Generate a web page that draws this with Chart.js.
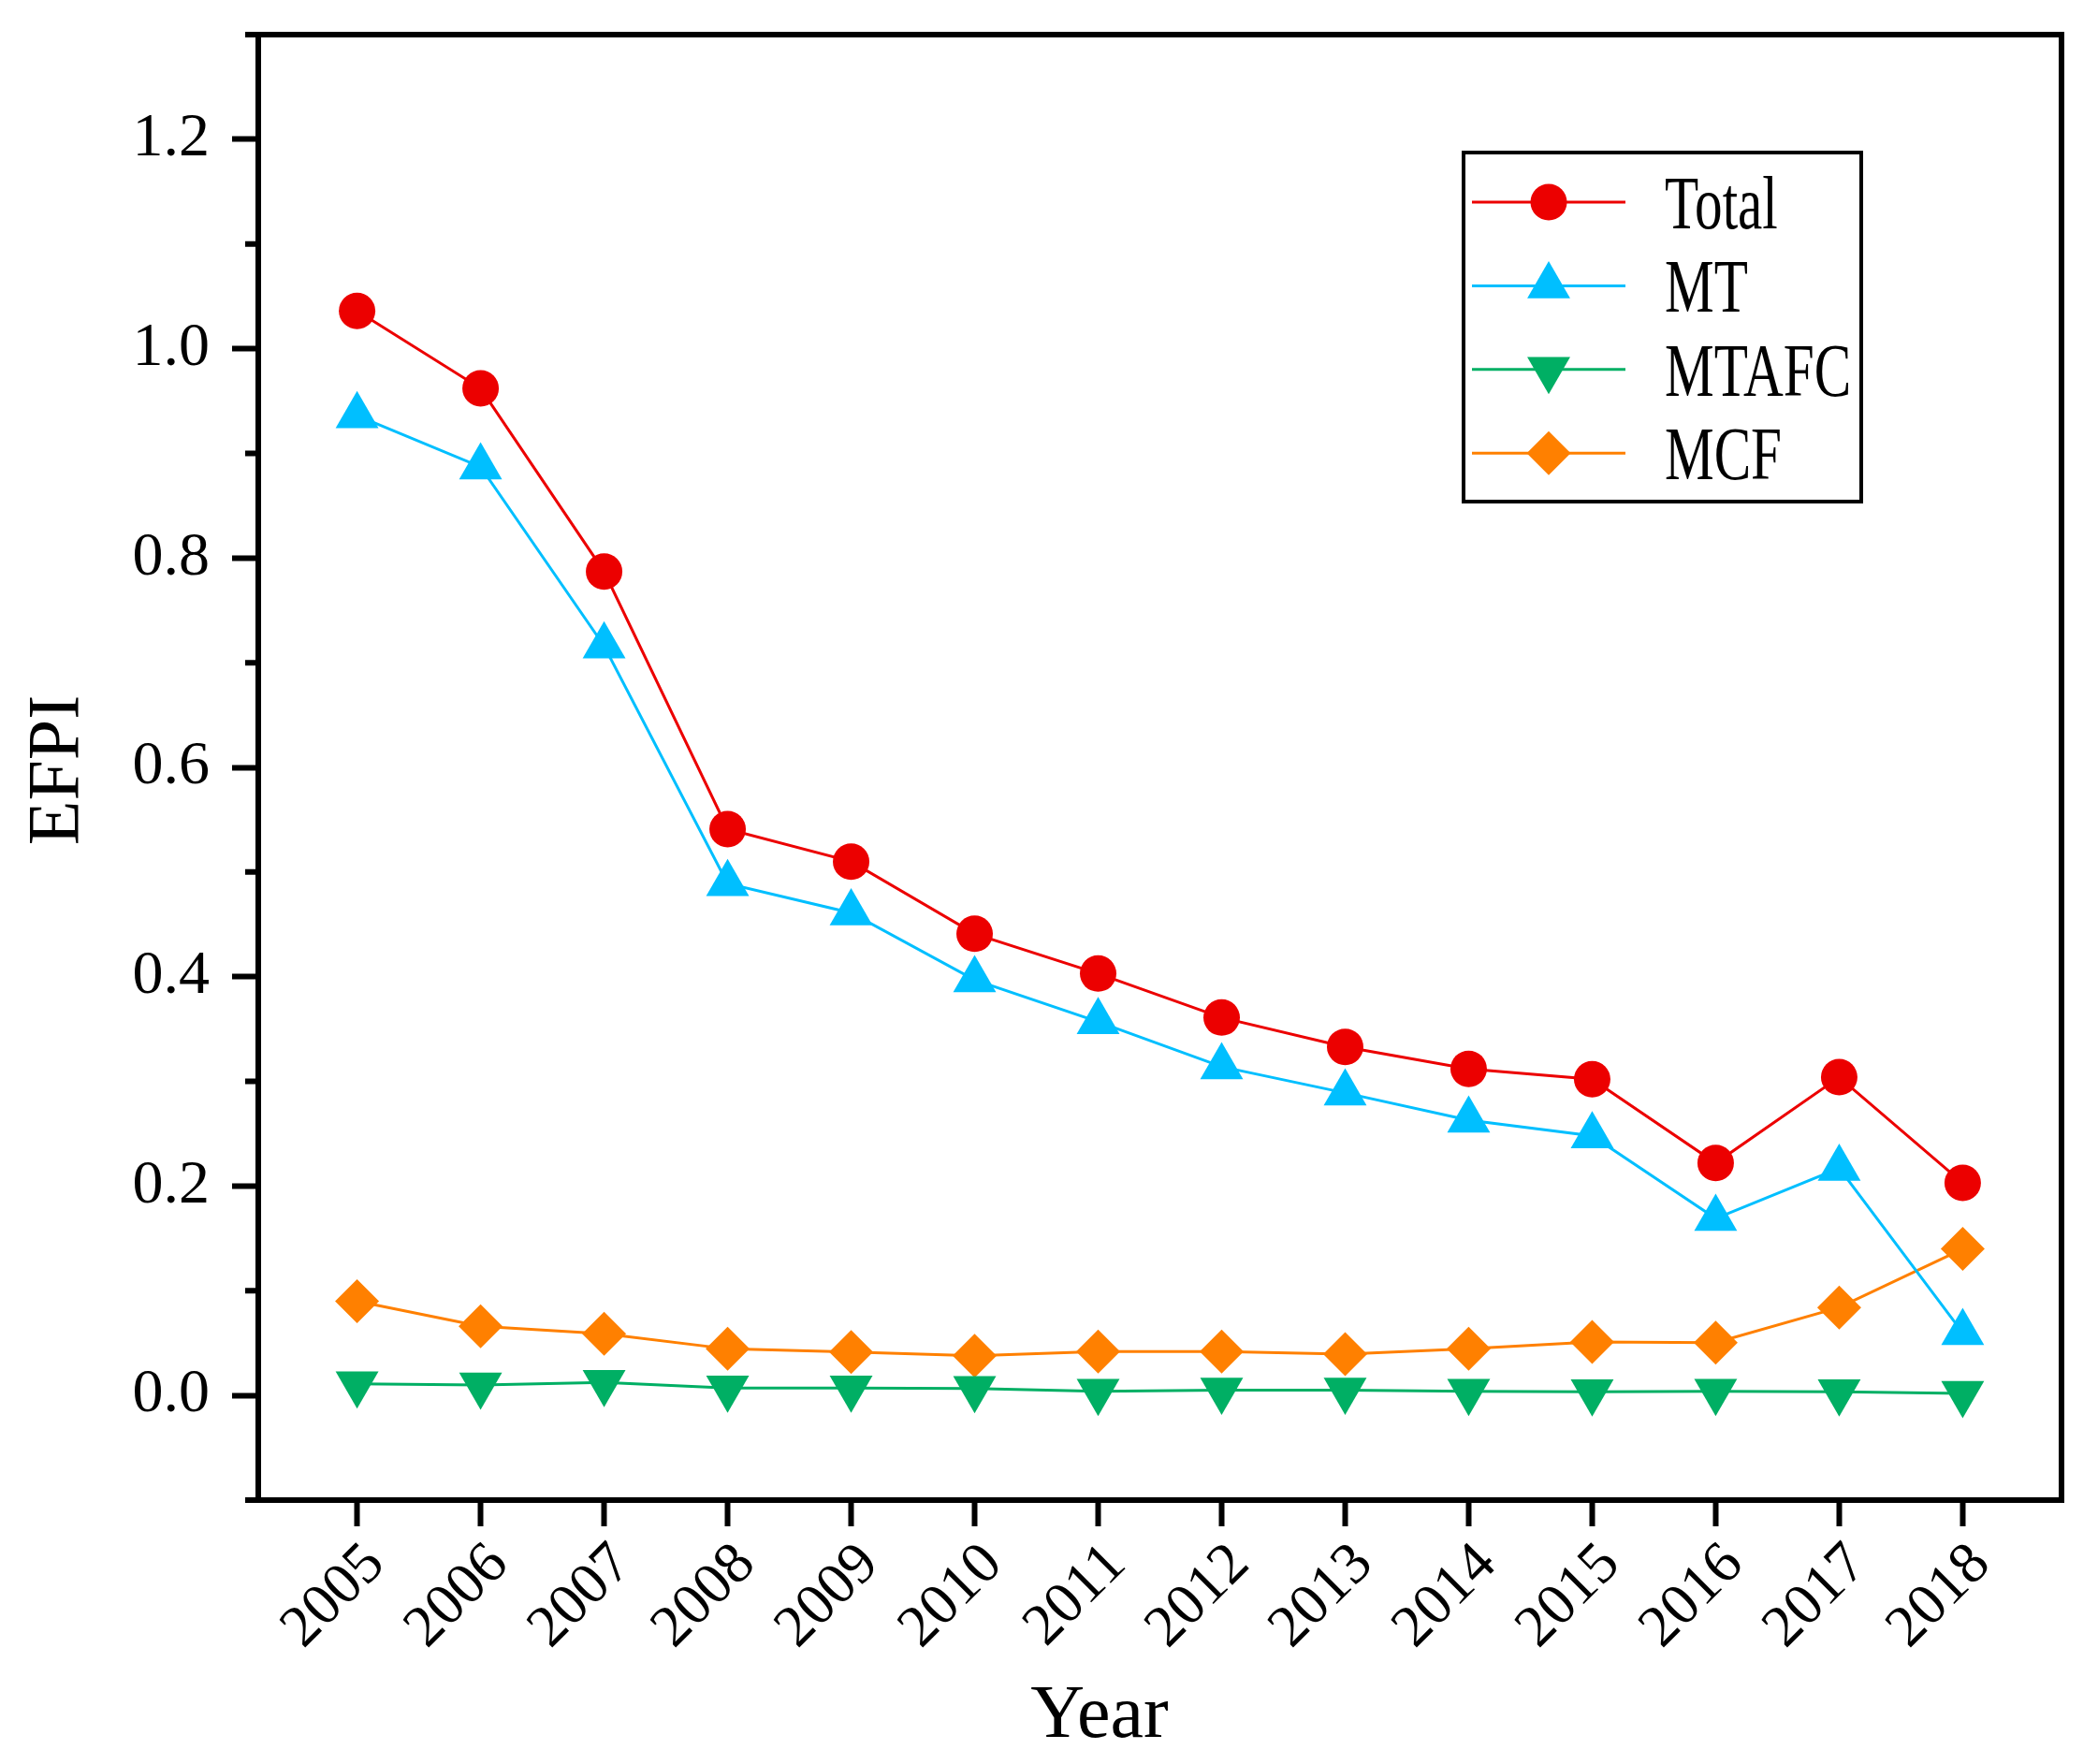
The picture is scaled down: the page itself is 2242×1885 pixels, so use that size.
<!DOCTYPE html>
<html>
<head>
<meta charset="utf-8">
<script src="https://cdn.jsdelivr.net/npm/chart.js@4.4.1/dist/chart.umd.min.js"></script>
<style>
  html, body { margin: 0; padding: 0; background: #fff; }
  canvas { display: block; }
</style>
</head>
<body>
<canvas id="efpiChart" width="2242" height="1885" style="width:2242px;height:1885px"></canvas>
<script>
// values
const years = [2005, 2006, 2007, 2008, 2009, 2010, 2011, 2012, 2013, 2014, 2015, 2016, 2017, 2018];
const total = [1.036, 0.962, 0.787, 0.541, 0.510, 0.441, 0.403, 0.361, 0.333, 0.312, 0.302, 0.222, 0.304, 0.203];
const mt    = [0.936, 0.887, 0.716, 0.489, 0.461, 0.397, 0.357, 0.314, 0.289, 0.263, 0.248, 0.169, 0.217, 0.060];
const mtafc = [0.011, 0.010, 0.0125, 0.007, 0.007, 0.0065, 0.004, 0.005, 0.005, 0.004, 0.0035, 0.004, 0.0035, 0.002];
const mcf   = [0.090, 0.066, 0.059, 0.0445, 0.0415, 0.038, 0.042, 0.042, 0.0395, 0.0445, 0.051, 0.0505, 0.084, 0.140];

const yTicks = [0.0, 0.2, 0.4, 0.6, 0.8, 1.0, 1.2];
const yMinorTicks = [-0.1, 0.1, 0.3, 0.5, 0.7, 0.9, 1.1, 1.3];
const xTitle = "Year";
const yTitle = "EFPI";

const FONT = "'Liberation Serif', 'Times New Roman', serif";
Chart.defaults.font.family = FONT;
Chart.defaults.color = "#000";

const toPoints = (vals) => years.map((yr, i) => ({ x: yr, y: vals[i] }));

function series(label, vals, color, style, radius, rotation) {
  return {
    label: label,
    data: toPoints(vals),
    borderColor: color,
    backgroundColor: color,
    pointBackgroundColor: color,
    borderWidth: 3,
    pointStyle: style,
    pointRadius: radius,
    pointRotation: rotation || 0,
    pointBorderWidth: 0,
    tension: 0
  };
}

// frame, minor ticks, axis titles and the boxed legend
const decorations = {
  id: "decorations",
  afterDraw(chart) {
    const { ctx, chartArea: a, scales } = chart;
    ctx.save();
    ctx.strokeStyle = "#000";
    ctx.lineWidth = 6;
    ctx.strokeRect(a.left, a.top, a.right - a.left, a.bottom - a.top);

    ctx.beginPath();
    yMinorTicks.forEach((v) => {
      const y = scales.y.getPixelForValue(v);
      ctx.moveTo(a.left - 14, y);
      ctx.lineTo(a.left, y);
    });
    ctx.stroke();

    ctx.fillStyle = "#000";
    ctx.font = "80px " + FONT;
    ctx.textAlign = "center";
    ctx.textBaseline = "alphabetic";
    ctx.fillText(xTitle, 1175, 1856);

    ctx.save();
    ctx.translate(83, 823);
    ctx.rotate(-Math.PI / 2);
    ctx.font = "78px " + FONT;
    ctx.fillText(yTitle, 0, 0);
    ctx.restore();

    // legend
    ctx.lineWidth = 4;
    ctx.strokeRect(1564, 163, 425, 373);
    chart.data.datasets.forEach((ds, i) => {
      const y = 216 + i * 89.4;
      ctx.strokeStyle = ds.borderColor;
      ctx.lineWidth = ds.borderWidth;
      ctx.beginPath();
      ctx.moveTo(1573, y);
      ctx.lineTo(1737, y);
      ctx.stroke();
      ctx.fillStyle = ds.pointBackgroundColor;
      Chart.helpers.drawPoint(ctx, {
        pointStyle: ds.pointStyle,
        radius: ds.pointRadius,
        rotation: ds.pointRotation,
        borderWidth: 0
      }, 1655, y);
      ctx.save();
      ctx.translate(1779, y + 28);
      ctx.scale(0.74, 1);
      ctx.fillStyle = "#000";
      ctx.textAlign = "left";
      ctx.font = "80px " + FONT;
      ctx.fillText(ds.label, 0, 0);
      ctx.restore();
    });
    ctx.restore();
  }
};

new Chart(document.getElementById("efpiChart").getContext("2d"), {
  type: "line",
  data: {
    datasets: [
      series("Total", total, "#EC0000", "circle", 19.5),
      series("MT", mt, "#00BFFF", "triangle", 26.5),
      series("MTAFC", mtafc, "#00AF64", "triangle", 26.5, 180),
      series("MCF", mcf, "#FF8000", "rectRot", 23.5)
    ]
  },
  options: {
    responsive: false,
    animation: false,
    devicePixelRatio: 1,
    layout: { padding: { top: 37, right: 39, left: 0, bottom: 0 } },
    plugins: {
      legend: { display: false },
      tooltip: { enabled: false }
    },
    scales: {
      x: {
        type: "linear",
        min: 2004.2,
        max: 2018.8,
        afterBuildTicks: (s) => { s.ticks = years.map((v) => ({ value: v })); },
        afterFit: (s) => {
          s.height = 282;
          s.paddingLeft = 0;
          s.paddingRight = 0;
        },
        border: { display: false },
        grid: { drawOnChartArea: false, tickLength: 28, tickWidth: 6, tickColor: "#000" },
        ticks: {
          autoSkip: false,
          minRotation: 45,
          maxRotation: 45,
          padding: 4,
          labelOffset: 20,
          color: "#000",
          font: { size: 63 },
          callback: (v) => String(v)
        }
      },
      y: {
        min: -0.1,
        max: 1.3,
        afterBuildTicks: (s) => { s.ticks = yTicks.map((v) => ({ value: v })); },
        afterFit: (s) => {
          s.width = 276;
          s.paddingTop = 0;
          s.paddingBottom = 0;
        },
        border: { display: false },
        grid: { drawOnChartArea: false, tickLength: 28, tickWidth: 6, tickColor: "#000" },
        ticks: {
          padding: 24,
          color: "#000",
          font: { size: 66 },
          callback: (v) => v.toFixed(1)
        }
      }
    }
  },
  plugins: [decorations]
});
</script>
</body>
</html>
